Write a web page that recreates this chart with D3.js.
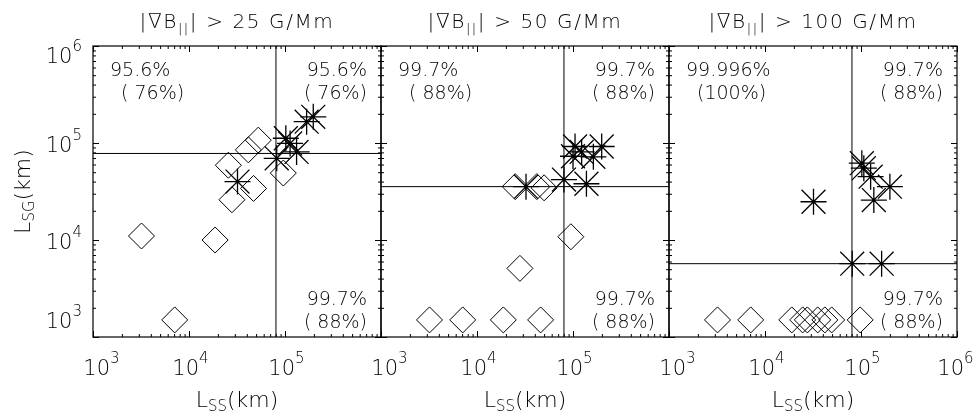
<!DOCTYPE html>
<html>
<head>
<meta charset="utf-8">
<script src="https://cdn.jsdelivr.net/npm/d3@7"></script>
<style>
  body { margin: 0; background: #fff; }
  svg { will-change: transform; }
  text { font-family: "DejaVu Sans", "Liberation Sans", sans-serif; font-weight: 200; fill: #000; }
</style>
</head>
<body>
<div id="chart"></div>
<script>
// thresholds of the three panels (G/Mm)
const thresholds = ["25", "50", "100"];

// reference lines of each panel (km)
const vLine = [8.05e4, 8.05e4, 8.05e4];
const hLine = [7.8e4, 3.55e4, 5.7e3];

// diamonds: L_SS, L_SG (km)
const diamondX = [
    [3.2e3, 7.1e3, 1.87e4, 2.8e4, 2.57e4, 4.7e4, 4.15e4, 5.27e4, 9.6e4],
    [3.2e3, 7.1e3, 1.88e4, 4.6e4, 2.8e4, 9.5e4, 2.5e4, 4.2e4, 5.0e4],
    [3.2e3, 7.1e3, 1.9e4, 2.47e4, 2.76e4, 3.54e4, 4.2e4, 4.95e4, 9.8e4]
];
const diamondY = [
    [1.1e4, 1.5e3, 1.0e4, 2.6e4, 5.9e4, 3.4e4, 8.5e4, 1.07e5, 4.9e4],
    [1.5e3, 1.5e3, 1.5e3, 1.5e3, 5.1e3, 1.08e4, 3.55e4, 3.55e4, 3.45e4],
    [1.5e3, 1.5e3, 1.5e3, 1.5e3, 1.5e3, 1.5e3, 1.5e3, 1.5e3, 1.5e3]
];

// asterisks: L_SS, L_SG (km)
const starX = [
    [3.2e4, 8.2e4, 1.02e5, 1.13e5, 1.32e5, 1.68e5, 1.97e5],
    [3.24e4, 8.05e4, 1.38e5, 1.05e5, 1.23e5, 1.63e5, 1.99e5, 1.0e5],
    [3.2e4, 8.1e4, 1.64e5, 1.02e5, 1.07e5, 1.26e5, 2.0e5, 1.36e5]
];
const starY = [
    [4.0e4, 6.95e4, 1.12e5, 9.9e4, 8.1e4, 1.66e5, 1.86e5],
    [3.55e4, 4.2e4, 3.8e4, 9.2e4, 8.1e4, 7.2e4, 9.2e4, 7.3e4],
    [2.48e4, 5.7e3, 5.7e3, 6.2e4, 5.5e4, 4.5e4, 3.55e4, 2.58e4]
];

// quadrant percentages
const pctTopLeft = [["95.6%", "( 76%)"], ["99.7%", "( 88%)"], ["99.996%", "(100%)"]];
const pctTopRight = [["95.6%", "( 76%)"], ["99.7%", "( 88%)"], ["99.7%", "( 88%)"]];
const pctBottomRight = [["99.7%", "( 88%)"], ["99.7%", "( 88%)"], ["99.7%", "( 88%)"]];

// axis ticks
const majorTicks = [1e3, 1e4, 1e5, 1e6];
const minorTicks = [1e3, 1e4, 1e5].flatMap(d => [2, 3, 4, 5, 6, 7, 8, 9].map(k => k * d));

const width = 973, height = 416;
const margin = { left: 93, top: 46 };
const pw = 288, ph = 291;

const svg = d3.select("#chart").append("svg")
    .attr("width", width).attr("height", height);

const x = d3.scaleLog().domain([1e3, 1e6]).range([0, pw]);
const y = d3.scaleLog().domain([1e3, 1e6]).range([ph, 0]);

// IDL-like symbols
const asterisk = {
    draw(ctx, size) {
        const r = Math.sqrt(size) / 2, d = r * 0.92;
        ctx.moveTo(-r, 0); ctx.lineTo(r, 0);
        ctx.moveTo(0, -r); ctx.lineTo(0, r);
        ctx.moveTo(-d, -d); ctx.lineTo(d, d);
        ctx.moveTo(-d, d); ctx.lineTo(d, -d);
    }
};
const diamond = {
    draw(ctx, size) {
        const r = Math.sqrt(size) / 2;
        ctx.moveTo(0, -r); ctx.lineTo(r, 0); ctx.lineTo(0, r); ctx.lineTo(-r, 0); ctx.closePath();
    }
};

function power(el, e, expDy) {
    el.text(null);
    el.append("tspan").text("10");
    el.append("tspan").attr("dy", expDy).attr("font-size", 15).text(e);
}

thresholds.forEach((thr, p) => {
    const g = svg.append("g")
        .attr("transform", `translate(${margin.left + p * pw},${margin.top})`);

    // reference lines
    g.append("line")
        .attr("x1", x(vLine[p])).attr("x2", x(vLine[p]))
        .attr("y1", 0).attr("y2", ph)
        .attr("stroke", "#000").attr("stroke-width", 1);
    g.append("line")
        .attr("x1", 0).attr("x2", pw)
        .attr("y1", y(hLine[p])).attr("y2", y(hLine[p]))
        .attr("stroke", "#000").attr("stroke-width", 1);

    // axes with inward ticks
    const axes = [
        [d3.axisBottom(x), `translate(0,${ph})`],
        [d3.axisTop(x), null],
        [d3.axisLeft(y), null],
        [d3.axisRight(y), `translate(${pw},0)`]
    ];
    axes.forEach(([ax, tr]) => {
        const major = g.append("g").call(ax.tickValues(majorTicks).tickSize(-6).tickFormat(""));
        const minor = g.append("g").call(ax.tickValues(minorTicks).tickSize(-3).tickFormat(""));
        [major, minor].forEach(a => {
            if (tr) a.attr("transform", tr);
            a.select(".domain").remove();
            a.selectAll(".tick line").attr("stroke", "#000");
        });
    });

    // frame
    g.append("rect").attr("width", pw).attr("height", ph)
        .attr("fill", "none").attr("stroke", "#000").attr("stroke-width", 1.2);

    // x tick labels
    const xLabels = p === 2 ? majorTicks : majorTicks.slice(0, 3);
    const xl = g.append("g").attr("transform", `translate(0,${ph})`)
        .call(d3.axisBottom(x).tickValues(xLabels).tickSize(0).tickPadding(0));
    xl.select(".domain").remove();
    xl.selectAll(".tick text")
        .attr("font-size", 21).attr("text-anchor", "middle")
        .attr("y", 38).attr("dy", null)
        .attr("dx", d => d === 1e3 ? 8 : (d === 1e6 ? -2 : 1))
        .each(function (d) { power(d3.select(this), Math.round(Math.log10(d)), -12); });

    // y tick labels (first panel only)
    if (p === 0) {
        const yl = g.append("g")
            .call(d3.axisLeft(y).tickValues(majorTicks).tickSize(0).tickPadding(11));
        yl.select(".domain").remove();
        yl.selectAll(".tick text")
            .attr("font-size", 21).attr("dy", null)
            .attr("y", d => d === 1e6 ? 16 : (d === 1e3 ? -10 : 8))
            .each(function (d) { power(d3.select(this), Math.round(Math.log10(d)), -12); });
    }

    // diamonds
    g.selectAll("path.dia")
        .data(diamondX[p].map((v, i) => [v, diamondY[p][i]]))
        .enter().append("path")
        .attr("class", "dia")
        .attr("d", d3.symbol().type(diamond).size(26 * 26))
        .attr("transform", d => `translate(${x(d[0])},${y(d[1])})`)
        .attr("fill", "none").attr("stroke", "#000").attr("stroke-width", 1);

    // asterisks
    g.selectAll("path.star")
        .data(starX[p].map((v, i) => [v, starY[p][i]]))
        .enter().append("path")
        .attr("class", "star")
        .attr("d", d3.symbol().type(asterisk).size(26 * 26))
        .attr("transform", d => `translate(${x(d[0])},${y(d[1])})`)
        .attr("fill", "none").attr("stroke", "#000").attr("stroke-width", 1.3);

    // percentages
    const pct = (lines, xx, y0, anchor, dx2) => {
        lines.forEach((s, i) => {
            g.append("text").attr("x", xx + (i ? dx2 : 0)).attr("y", y0 + i * 22.5)
                .attr("text-anchor", anchor).attr("font-size", 19)
                .attr("xml:space", "preserve").text(s);
        });
    };
    pct(pctTopLeft[p], 17, 30, "start", 11);
    pct(pctTopRight[p], pw - 14, 30, "end", 0);
    pct(pctBottomRight[p], pw - 14, 259, "end", 0);

    // panel title
    const t = g.append("text").attr("x", pw / 2).attr("y", -18)
        .attr("text-anchor", "middle").attr("font-size", 20)
        .attr("letter-spacing", 1.6)
        .attr("xml:space", "preserve");
    t.append("tspan").text("|\u2207B");
    t.append("tspan").attr("font-size", 13).attr("dy", 5).text("||");
    t.append("tspan").attr("dy", -5).text(`| > ${thr} G/Mm`);

    // x title
    const xt = g.append("text").attr("x", pw / 2).attr("y", ph + 70)
        .attr("text-anchor", "middle").attr("font-size", 22);
    xt.append("tspan").text("L");
    xt.append("tspan").attr("font-size", 15).attr("dy", 4).text("SS");
    xt.append("tspan").attr("dy", -4).text("(km)");
});

// y title
const yt = svg.append("text")
    .attr("transform", `translate(30,${margin.top + ph / 2}) rotate(-90)`)
    .attr("text-anchor", "middle").attr("font-size", 22);
yt.append("tspan").text("L");
yt.append("tspan").attr("font-size", 15).attr("dy", 4).text("SG");
yt.append("tspan").attr("dy", -4).text("(km)");
</script>
</body>
</html>
